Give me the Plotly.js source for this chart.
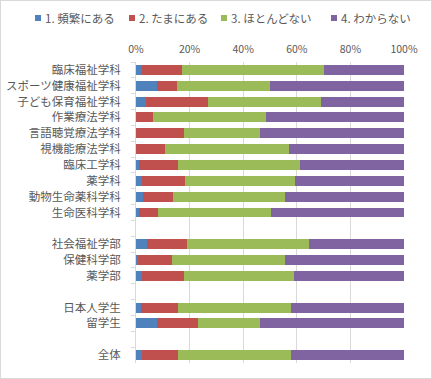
<!DOCTYPE html>
<html>
<head>
<meta charset="utf-8">
<script src="https://cdn.plot.ly/plotly-3.0.1.min.js"></script>
<style>
html,body{margin:0;padding:0;background:#fff;}
#wrap{position:relative;width:432px;height:379px;}
#chart{width:432px;height:379px;}
#frame{position:absolute;left:0;top:0;width:430px;height:377px;border:1px solid #d9d9d9;pointer-events:none;}
</style>
</head>
<body>
<div id="wrap"><div id="chart"></div><div id="frame"></div></div>
<script>
const categories = [
  "臨床福祉学科","スポーツ健康福祉学科","子ども保育福祉学科","作業療法学科","言語聴覚療法学科",
  "視機能療法学科","臨床工学科","薬学科","動物生命薬科学科","生命医科学科",
  " ",
  "社会福祉学部","保健科学部","薬学部",
  "  ",
  "日本人学生","留学生",
  "   ",
  "全体"
];
const seriesNames = ["1. 頻繁にある","2. たまにある","3. ほとんどない","4. わからない"];
const often    = [2.2,7.8,3.7,0,0,0,1.1,2.2,2.6,1.1, null, 4.1,0.7,2.2, null, 1.9,7.8, null, 2.2];
const sometimes= [15.0,7.5,23.2,6.3,17.9,10.8,14.6,16.1,11.2,7.1, null, 14.9,12.7,15.7, null, 13.8,15.3, null, 13.5];
const rarely   = [52.9,34.7,42.1,42.2,28.4,46.3,45.5,41.0,41.8,42.2, null, 45.6,42.2,41.1, null, 42.1,23.2, null, 42.1];
const unknown  = [29.9,50.0,31.0,51.5,53.7,42.9,38.8,40.7,44.4,49.6, null, 35.4,44.4,41.0, null, 42.2,53.7, null, 42.2];
const tickValsX = [0,20,40,60,80,100];
const tickTextX = ["0%","20%","40%","60%","80%","100%"];

const colors = ["#4F81BD","#C0504D","#9BBB59","#8064A2"];
const vals = [often, sometimes, rarely, unknown];

const traces = vals.map((v,i)=>({
  type:'bar', orientation:'h', name:seriesNames[i],
  x:v, y:categories, marker:{color:colors[i]}, hoverinfo:'none', showlegend:false
}));

const font = {family:'"Noto Sans CJK JP", "Noto Sans", sans-serif', color:'#595959'};

// pixel -> paper helpers (plot area: left 136, width 268, top 62, height 301)
const M = {l:136, r:28, t:62, b:16};
const W = 432, H = 379, PW = W - M.l - M.r, PH = H - M.t - M.b;
const px = p => (p - M.l) / PW;
const py = p => 1 + (M.t - p) / PH;

// legend built from series names and colours
const legendStarts = [35, 129, 221, 331];
const shapes = [], annotations = [];
seriesNames.forEach((n,i)=>{
  const s = legendStarts[i];
  shapes.push({type:'rect', xref:'paper', yref:'paper', x0:px(s), x1:px(s+6), y0:py(21), y1:py(15),
               fillcolor:colors[i], line:{width:0}});
  annotations.push({xref:'paper', yref:'paper', x:px(s+7.5), y:py(18), xanchor:'left', yanchor:'middle',
                    text:n, showarrow:false, font:Object.assign({size:11.5}, font)});
});

const layout = {
  width:W, height:H,
  margin:{l:M.l, r:M.r, t:M.t, b:M.b, pad:0},
  barmode:'stack', bargap:0.37,
  showlegend:false,
  shapes:shapes, annotations:annotations,
  xaxis:{side:'top', range:[0,100], tickmode:'array', tickvals:tickValsX, ticktext:tickTextX, showgrid:true, gridcolor:'#d9d9d9', gridwidth:1,
         zeroline:false, showline:false, ticks:'', ticklabelstandoff:6,
         tickfont:Object.assign({size:10.5}, font), fixedrange:true},
  yaxis:{type:'category', categoryorder:'array', categoryarray:categories, autorange:'reversed',
         showline:true, linecolor:'#d9d9d9', linewidth:1, ticks:'outside', tickson:'boundaries', ticklen:4, tickcolor:'#d9d9d9',
         ticklabelstandoff:12,
         tickfont:Object.assign({size:11.5}, font), showgrid:false, zeroline:false, fixedrange:true},
  paper_bgcolor:'#fff', plot_bgcolor:'#fff'
};

Plotly.newPlot('chart', traces, layout, {displayModeBar:false, staticPlot:true});
</script>
</body>
</html>
